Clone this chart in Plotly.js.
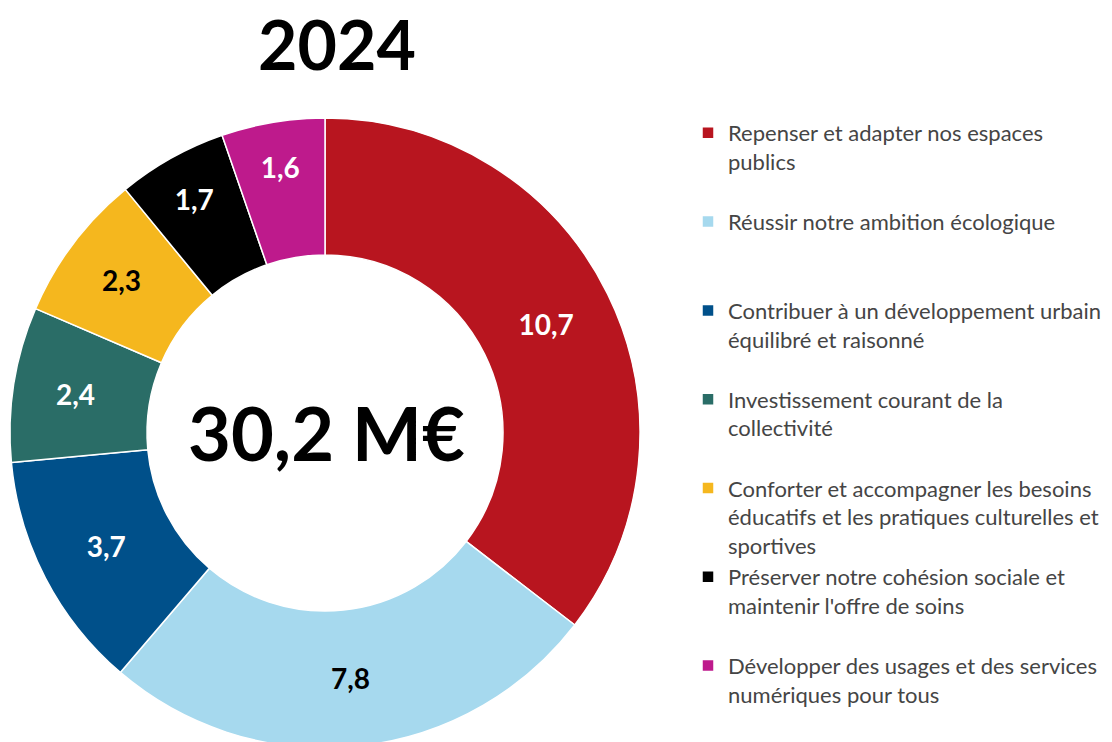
<!DOCTYPE html>
<html>
<head>
<meta charset="utf-8">
<script src="https://cdn.plot.ly/plotly-3.0.1.min.js"></script>
<style>
  html, body { margin: 0; padding: 0; background: #fff; overflow: hidden; }
  #chart { width: 1112px; height: 750px; }
</style>
</head>
<body>
<div id="chart"></div>
<script>
// Budget 2024 par axe, en millions d'euros
var labels = [
    'Repenser et adapter nos espaces<br>publics',
    'Réussir notre ambition écologique',
    'Contribuer à un développement urbain<br>équilibré et raisonné',
    'Investissement courant de la<br>collectivité',
    'Conforter et accompagner les besoins<br>éducatifs et les pratiques culturelles et<br>sportives',
    'Préserver notre cohésion sociale et<br>maintenir l\'offre de soins',
    'Développer des usages et des services<br>numériques pour tous'
];
var values = [10.7, 7.8, 3.7, 2.4, 2.3, 1.7, 1.6];
var colors = ['#b8151f', '#a6d9ee', '#00508a', '#2a6d67', '#f5b71e', '#000000', '#be1a8c'];
var textColors = ['#ffffff', '#000000', '#ffffff', '#ffffff', '#000000', '#ffffff', '#ffffff'];
var year = '2024';

// every legend entry takes three lines so the entries sit on a regular pitch
var legendLabels = labels.map(function (l) {
    var n = l.split('<br>').length;
    var s = l;
    for (var i = n; i < 3; i++) s += '<br> ';
    return s;
});

var total = values.reduce(function (a, b) { return a + b; }, 0);
var totalText = total.toFixed(1).replace('.', ',') + ' M€';

var W = 1112, H = 750;

var trace = {
    type: 'pie',
    labels: legendLabels,
    values: values,
    hole: 0.565,
    sort: false,
    direction: 'clockwise',
    rotation: 0,
    marker: { colors: colors, line: { color: '#ffffff', width: 1.5 } },
    texttemplate: '%{value:.1f}',
    textposition: 'inside',
    insidetextorientation: 'horizontal',
    textfont: { family: 'Lato', size: 28, weight: 'bold', color: textColors },
    domain: { x: [10 / W, 640 / W], y: [2 / H, 632 / H] },
    hoverinfo: 'label+value'
};

var layout = {
    width: W,
    height: H,
    margin: { l: 0, r: 0, t: 0, b: 0 },
    paper_bgcolor: '#ffffff',
    separators: ', ',
    font: { family: 'Lato', color: '#404040' },
    title: {
        text: year,
        font: { family: 'Lato', size: 68, weight: 'bold', color: '#000000' },
        x: 337 / W,
        xanchor: 'center',
        y: 1 - 46 / H,
        yanchor: 'middle',
        yref: 'container'
    },
    showlegend: true,
    legend: {
        x: 688 / W,
        xanchor: 'left',
        y: 1 - 112 / H,
        yanchor: 'top',
        valign: 'top',
        bgcolor: 'rgba(0,0,0,0)',
        font: { family: 'Lato', size: 22, color: '#454545' }
    },
    annotations: [{
        text: totalText,
        x: 326 / W,
        y: (H - 432) / H,
        xref: 'paper',
        yref: 'paper',
        xanchor: 'center',
        yanchor: 'middle',
        showarrow: false,
        font: { family: 'Lato', size: 74, weight: 'bold', color: '#000000' }
    }]
};

Plotly.newPlot('chart', [trace], layout, { displayModeBar: false });
</script>
</body>
</html>
